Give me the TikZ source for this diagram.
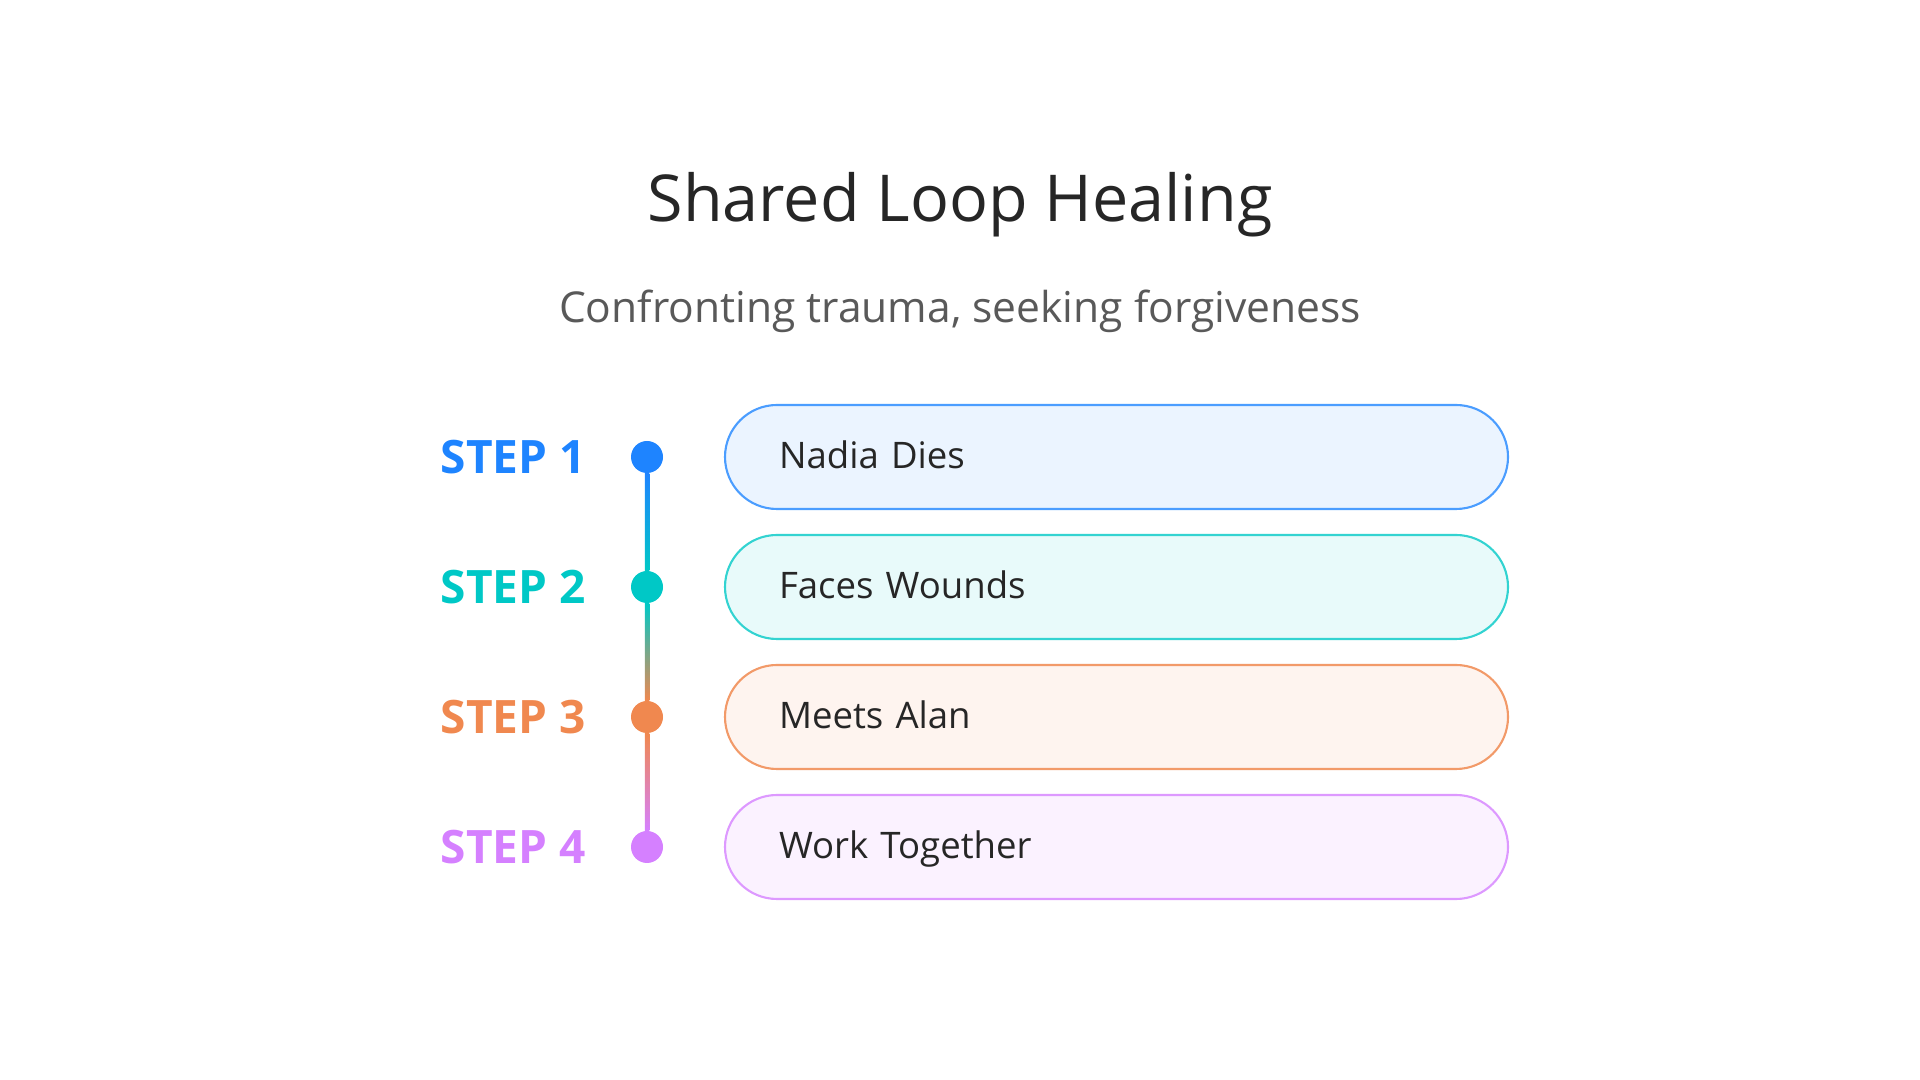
\documentclass[tikz,border=0pt]{standalone}
\usepackage{fontspec}
\setmainfont{Open Sans}
\usetikzlibrary{positioning}
\definecolor{stblue}{HTML}{1E84FF}
\definecolor{stteal}{HTML}{00C8C6}
\definecolor{storange}{HTML}{F0884F}
\definecolor{stviolet}{HTML}{D580FF}
\definecolor{txtdark}{HTML}{262626}
\definecolor{txtgray}{HTML}{595959}

\begin{document}
\begin{tikzpicture}[
  title/.style={font=\fontsize{18.4}{22}\selectfont, text=txtdark, anchor=base, inner sep=0pt},
  subtitle/.style={font=\fontsize{12.1}{14}\selectfont, text=txtgray, anchor=base, inner sep=0pt},
  steplab/.style={font=\bfseries\fontsize{13.1}{15}\selectfont, anchor=west, inner sep=0pt},
  dot/.style={circle, minimum size=0.32cm, inner sep=0pt},
  card/.style={draw, line width=0.6pt, rounded corners=0.52cm, minimum height=1.04cm, text width=6.75cm,
    text height=7.9pt, text depth=1.2pt, inner xsep=0.54cm, inner ysep=0pt, align=left, text=txtdark,
    font=\fontsize{10.4}{12}\selectfont}]
\useasboundingbox (0,0) rectangle (19.2,10.8);
\node[title] (ttl) at (9.6,8.58) {Shared Loop Healing};
\node[subtitle] (sub) at (9.6,7.57) {Confronting trauma, seeking forgiveness};
% dots on the timeline
\node[dot, fill=stblue] (d1) at (6.47,6.23) {};
\node[dot, fill=stteal] (d2) at (6.47,4.93) {};
\node[dot, fill=storange] (d3) at (6.47,3.63) {};
\node[dot, fill=stviolet] (d4) at (6.47,2.33) {};
\shade[top color=stblue, bottom color=stteal] ([xshift=-0.0225cm]d1.south) rectangle ([xshift=0.0225cm]d2.north);
\shade[top color=stteal, bottom color=storange] ([xshift=-0.0225cm]d2.south) rectangle ([xshift=0.0225cm]d3.north);
\shade[top color=storange, bottom color=stviolet] ([xshift=-0.0225cm]d3.south) rectangle ([xshift=0.0225cm]d4.north);
% step labels
\node[steplab, text=stblue] (s1) at (4.40,6.23) {STEP 1};
\node[steplab, text=stteal] (s2) at (4.40,4.93) {STEP 2};
\node[steplab, text=storange] (s3) at (4.40,3.63) {STEP 3};
\node[steplab, text=stviolet] (s4) at (4.40,2.33) {STEP 4};
% cards
\node[card, draw=stblue!80, fill=stblue!9] (c1) at (11.165,6.23) {Nadia Dies};
\node[card, draw=stteal!80, fill=stteal!9] (c2) at (11.165,4.93) {Faces Wounds};
\node[card, draw=storange!85, fill=storange!9] (c3) at (11.165,3.63) {Meets Alan};
\node[card, draw=stviolet!80, fill=stviolet!10] (c4) at (11.165,2.33) {Work Together};
\end{tikzpicture}
\end{document}
